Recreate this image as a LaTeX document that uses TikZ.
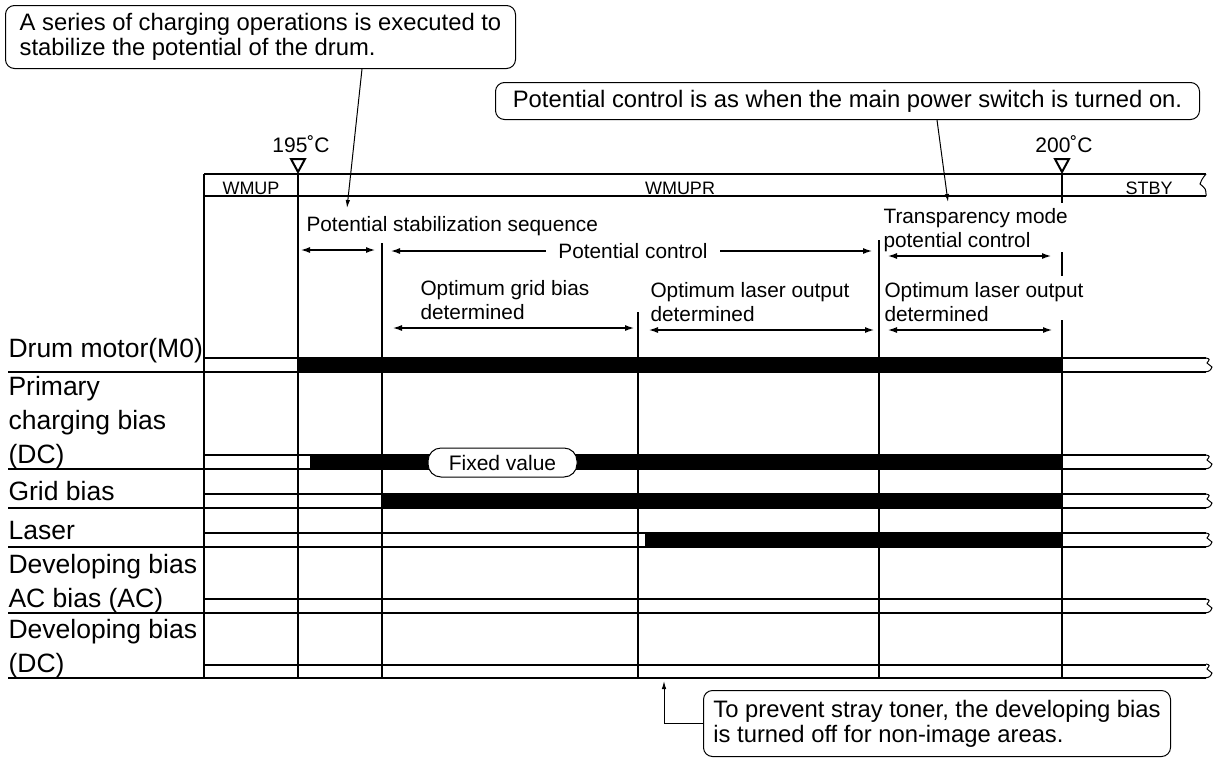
\documentclass[tikz,border=0pt]{standalone}
\usepackage{fontspec}
\setmainfont{Liberation Sans}
\usetikzlibrary{arrows.meta}

\begin{document}
\begin{tikzpicture}[
 x=1pt,y=-1pt,line width=1.1pt,
 sig/.style={font=\fontsize{26.5}{34}\selectfont,anchor=base west,inner sep=0pt,align=left},
 note/.style={font=\fontsize{20.8}{24}\selectfont,anchor=base west,inner sep=0pt,align=left},
 phase/.style={font=\fontsize{18}{20}\selectfont,anchor=base,inner sep=0pt},
 temp/.style={font=\fontsize{21}{24}\selectfont,anchor=base,inner sep=0pt},
 callout/.style={draw,fill=white,rounded corners=9pt,line width=1pt,inner sep=0pt,font=\fontsize{23.8}{25}\selectfont,align=left,anchor=north west},
 pill/.style={draw,fill=white,rounded corners=13pt,line width=1pt,inner sep=0pt,font=\fontsize{21}{24}\selectfont,minimum width=149pt,minimum height=29pt},
 tri/.style={draw,fill=white,line width=2pt,line join=miter},
 span/.style={{Latex[length=10pt,width=6pt]}-{Latex[length=10pt,width=6pt]},line width=2pt},
 half/.style={-{Latex[length=10pt,width=6pt]},line width=2pt},
 ptr/.style={-{Latex[length=8pt,width=4.5pt]},line width=1pt},
 brk/.pic={\draw[line width=1pt] (0,0) .. controls (4,1) .. (1,5) -- (6,9) .. controls (4,13) .. (-1,14);}
]
\useasboundingbox (0,0) rectangle (1215,758);

% callouts
\node[callout,minimum width=510pt,minimum height=63pt] (sercall) at (5,5) {A series of charging operations is executed to\\stabilize the potential of the drum.};
\node[callout,minimum width=704pt,minimum height=37pt] (pwrcall) at (495,82) {Potential control is as when the main power switch is turned on.};
\node[callout,minimum width=467pt,minimum height=66pt] (offcall) at (703,690) {To prevent stray toner, the developing bias\\is turned off for non-image areas.};

% temperature marks
\node[temp] (t195) at (301,152) {195˚C};
\node[temp] (t200) at (1064,152) {200˚C};
\draw[tri] (291,159) -- (305,159) -- (298,172) -- cycle;
\draw[tri] (1055,159) -- (1069,159) -- (1062,172) -- cycle;

% phase header
\draw (204,174) -- (1206,174) (204,196) -- (1206,196);
\draw[line width=1pt] (1206,174) .. controls (1202,179) .. (1200,184) .. controls (1206,189) .. (1206,196);
\node[phase] (wmup) at (251,194.5) {WMUP};
\node[phase] (wmupr) at (680,194.5) {WMUPR};
\node[phase] (stby) at (1149,194.5) {STBY};

% signal rows
\draw (204,358) -- (1206,358) (8,372) -- (1206,372);
\draw (204,455) -- (1206,455) (8,469) -- (1206,469);
\draw (204,494) -- (1206,494) (8,508) -- (1206,508);
\draw (204,533) -- (1206,533) (8,547) -- (1206,547);
\draw (204,599) -- (1206,599) (8,613) -- (1206,613);
\draw (204,665) -- (1206,665) (8,678) -- (1206,678);
\pic at (1206,358) {brk};
\pic at (1206,455) {brk};
\pic at (1206,494) {brk};
\pic at (1206,533) {brk};
\pic at (1206,599) {brk};
\pic at (1206,664) {brk};
\fill (298,358) rectangle (1063,372);
\fill (310,455) rectangle (1062,469);
\fill (382,494) rectangle (1062,508);
\fill (645,533) rectangle (1062,547);
\node[pill] (fix) at (502.5,462.5) {Fixed value};

% labels, anchored at the last baseline
\node[sig] (drum) at (8,357) {Drum motor(M0)};
\node[sig] (prim) at (8,463) {Primary\\charging bias\\(DC)};
\node[sig] (grid) at (8,500) {Grid bias};
\node[sig] (laser) at (8,539) {Laser};
\node[sig] (devac) at (8,607) {Developing bias\\AC bias (AC)};
\node[sig] (devdc) at (8,672) {Developing bias\\(DC)};

% timing lines
\draw (204,174) -- (204,678);
\draw (298,174) -- (298,678);
\draw (382,243) -- (382,678);
\draw (638,312) -- (638,678);
\draw (879,240) -- (879,678);
\draw (1062,174) -- (1062,203) (1062,252) -- (1062,276) (1062,320) -- (1062,678);

% sequence notes
\node[note] (stabseq) at (306,231) {Potential stabilization sequence};
\node[note] (transp) at (883,247) {Transparency mode\\potential control};
\node[note] (gridopt) at (420,319) {Optimum grid bias\\determined};
\node[note] (laseropt) at (650,321) {Optimum laser output\\determined};
\node[note] (transopt) at (884,321) {Optimum laser output\\determined};
\node[note,anchor=center,fill=white,inner xsep=12pt] (pctl) at (633,251) {Potential control};

\coordinate (ss0) at (300,250); \coordinate (ss1) at (376,250);
\coordinate (pc0) at (390,251); \coordinate (pc1) at (873,251);
\coordinate (tp0) at (887,256); \coordinate (tp1) at (1052,256);
\coordinate (gb0) at (392,328); \coordinate (gb1) at (635,328);
\coordinate (lo0) at (648,330); \coordinate (lo1) at (875,330);
\coordinate (to0) at (887,330); \coordinate (to1) at (1053,330);
\draw[span] (ss0) -- (ss1);
\draw[half] (pctl.west) -- (pc0);
\draw[half] (pctl.east) -- (pc1);
\draw[span] (tp0) -- (tp1);
\draw[span] (gb0) -- (gb1);
\draw[span] (lo0) -- (lo1);
\draw[span] (to0) -- (to1);

% callout pointers
\coordinate (stab) at (347,208);
\coordinate (trans) at (948,202);
\coordinate (dvoff) at (664,681);
\draw[ptr] ([xshift=357pt]sercall.south west) -- (stab);
\draw[ptr] ([xshift=442pt]pwrcall.south west) -- (trans);
\draw[ptr] (offcall.west) -| (dvoff);
\end{tikzpicture}
\end{document}
